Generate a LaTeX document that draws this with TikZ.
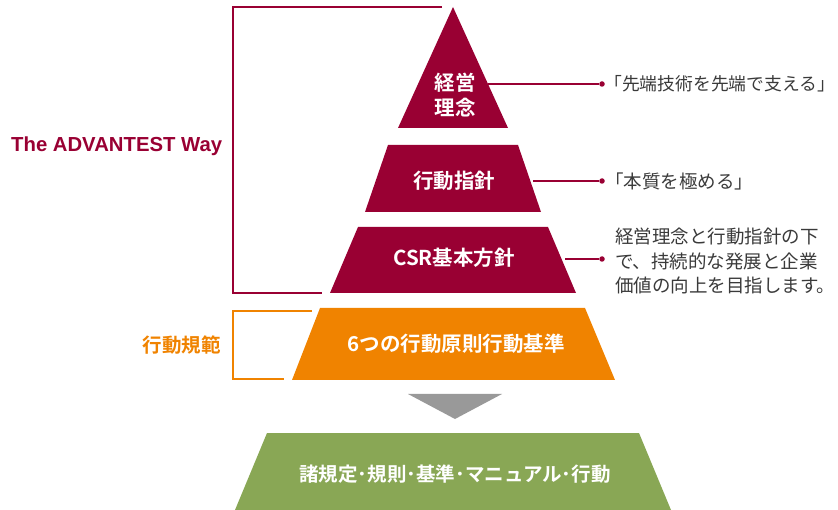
\documentclass[tikz,border=0pt]{standalone}
\usepackage{fontspec}
\setmainfont{Liberation Sans}
\newfontfamily\jp{Noto Sans CJK JP}
\newfontfamily\jpb{Noto Sans CJK JP Bold}
\definecolor{maroon}{HTML}{990033}
\definecolor{orng}{HTML}{F08300}
\definecolor{grn}{HTML}{89A755}
\definecolor{gry}{HTML}{999999}
\definecolor{txt}{HTML}{3A3A3A}
\tikzset{
  lab/.style={text=white, font=\jpb\fontsize{20.5}{25}\selectfont, inner sep=0pt},
  side/.style={text=txt, font=\jp\fontsize{18.5}{24.5}\selectfont, inner sep=0pt, anchor=west, align=left},
  conn/.style={draw=maroon, line width=1.2pt},
  dotm/.style={circle, fill=maroon, inner sep=0pt, minimum size=5.5pt},
}
\begin{document}
\begin{tikzpicture}[x=1pt,y=-1pt]
\useasboundingbox (0,0) rectangle (838,510);
% pyramid shapes
\fill[maroon] (453,7) -- (508,128) -- (398,128) -- cycle;
\fill[maroon] (388,145) -- (518,145) -- (541,212) -- (365,212) -- cycle;
\fill[maroon] (358,227) -- (548,227) -- (576,293) -- (330,293) -- cycle;
\fill[orng] (320,308) -- (585,308) -- (615,380) -- (292,380) -- cycle;
\fill[gry] (408,394) -- (502,394) -- (455,419) -- cycle;
\fill[grn] (267,433) -- (639,433) -- (671,510) -- (235,510) -- cycle;
% labels
\node[lab, align=center] (l1) at (455,95) {経営\\[0pt]理念};
\node[lab] (l2) at (454,181) {行動指針};
\node[lab] (l3) at (454,258) {CSR基本方針};
\node[lab] (l4) at (456,344) {6つの行動原則行動基準};
\node[lab, font=\jpb\fontsize{19.5}{24}\selectfont] (l5) at (455,474) {諸規定･規則･基準･マニュアル･行動};
% brackets
\draw[maroon, line width=2.6pt] (442,7) -- (233,7) -- (233,293) -- (322,293);
\draw[orng, line width=2pt] (312,311) -- (233,311) -- (233,379) -- (284,379);
\node[text=maroon, font=\bfseries\fontsize{20.3}{22}\selectfont, inner sep=0pt, anchor=west] (way) at (11,146) {The ADVANTEST Way};
\node[text=orng, font=\jpb\fontsize{19.5}{22}\selectfont, inner sep=0pt, anchor=east] (kihan) at (221,345) {行動規範};
% right side
\coordinate (e1) at (488,84);
\coordinate (e2) at (533,181);
\coordinate (e3) at (565,259);
\node[dotm] (d1) at (602,84) {};
\node[dotm] (d2) at (602,181) {};
\node[dotm] (d3) at (602,259) {};
\draw[conn] (e1) -- (d1);
\draw[conn] (e2) -- (d2);
\draw[conn] (e3) -- (d3);
\node[side, font=\jp\fontsize{17.8}{24.5}\selectfont] (s1) at (604,84) {「先端技術を先端で支える」};
\node[side] (s2) at (605,181) {「本質を極める」};
\node[side] (s3) at (615,261) {経営理念と行動指針の下\\で、持続的な発展と企業\\価値の向上を目指します。};
\end{tikzpicture}
\end{document}
